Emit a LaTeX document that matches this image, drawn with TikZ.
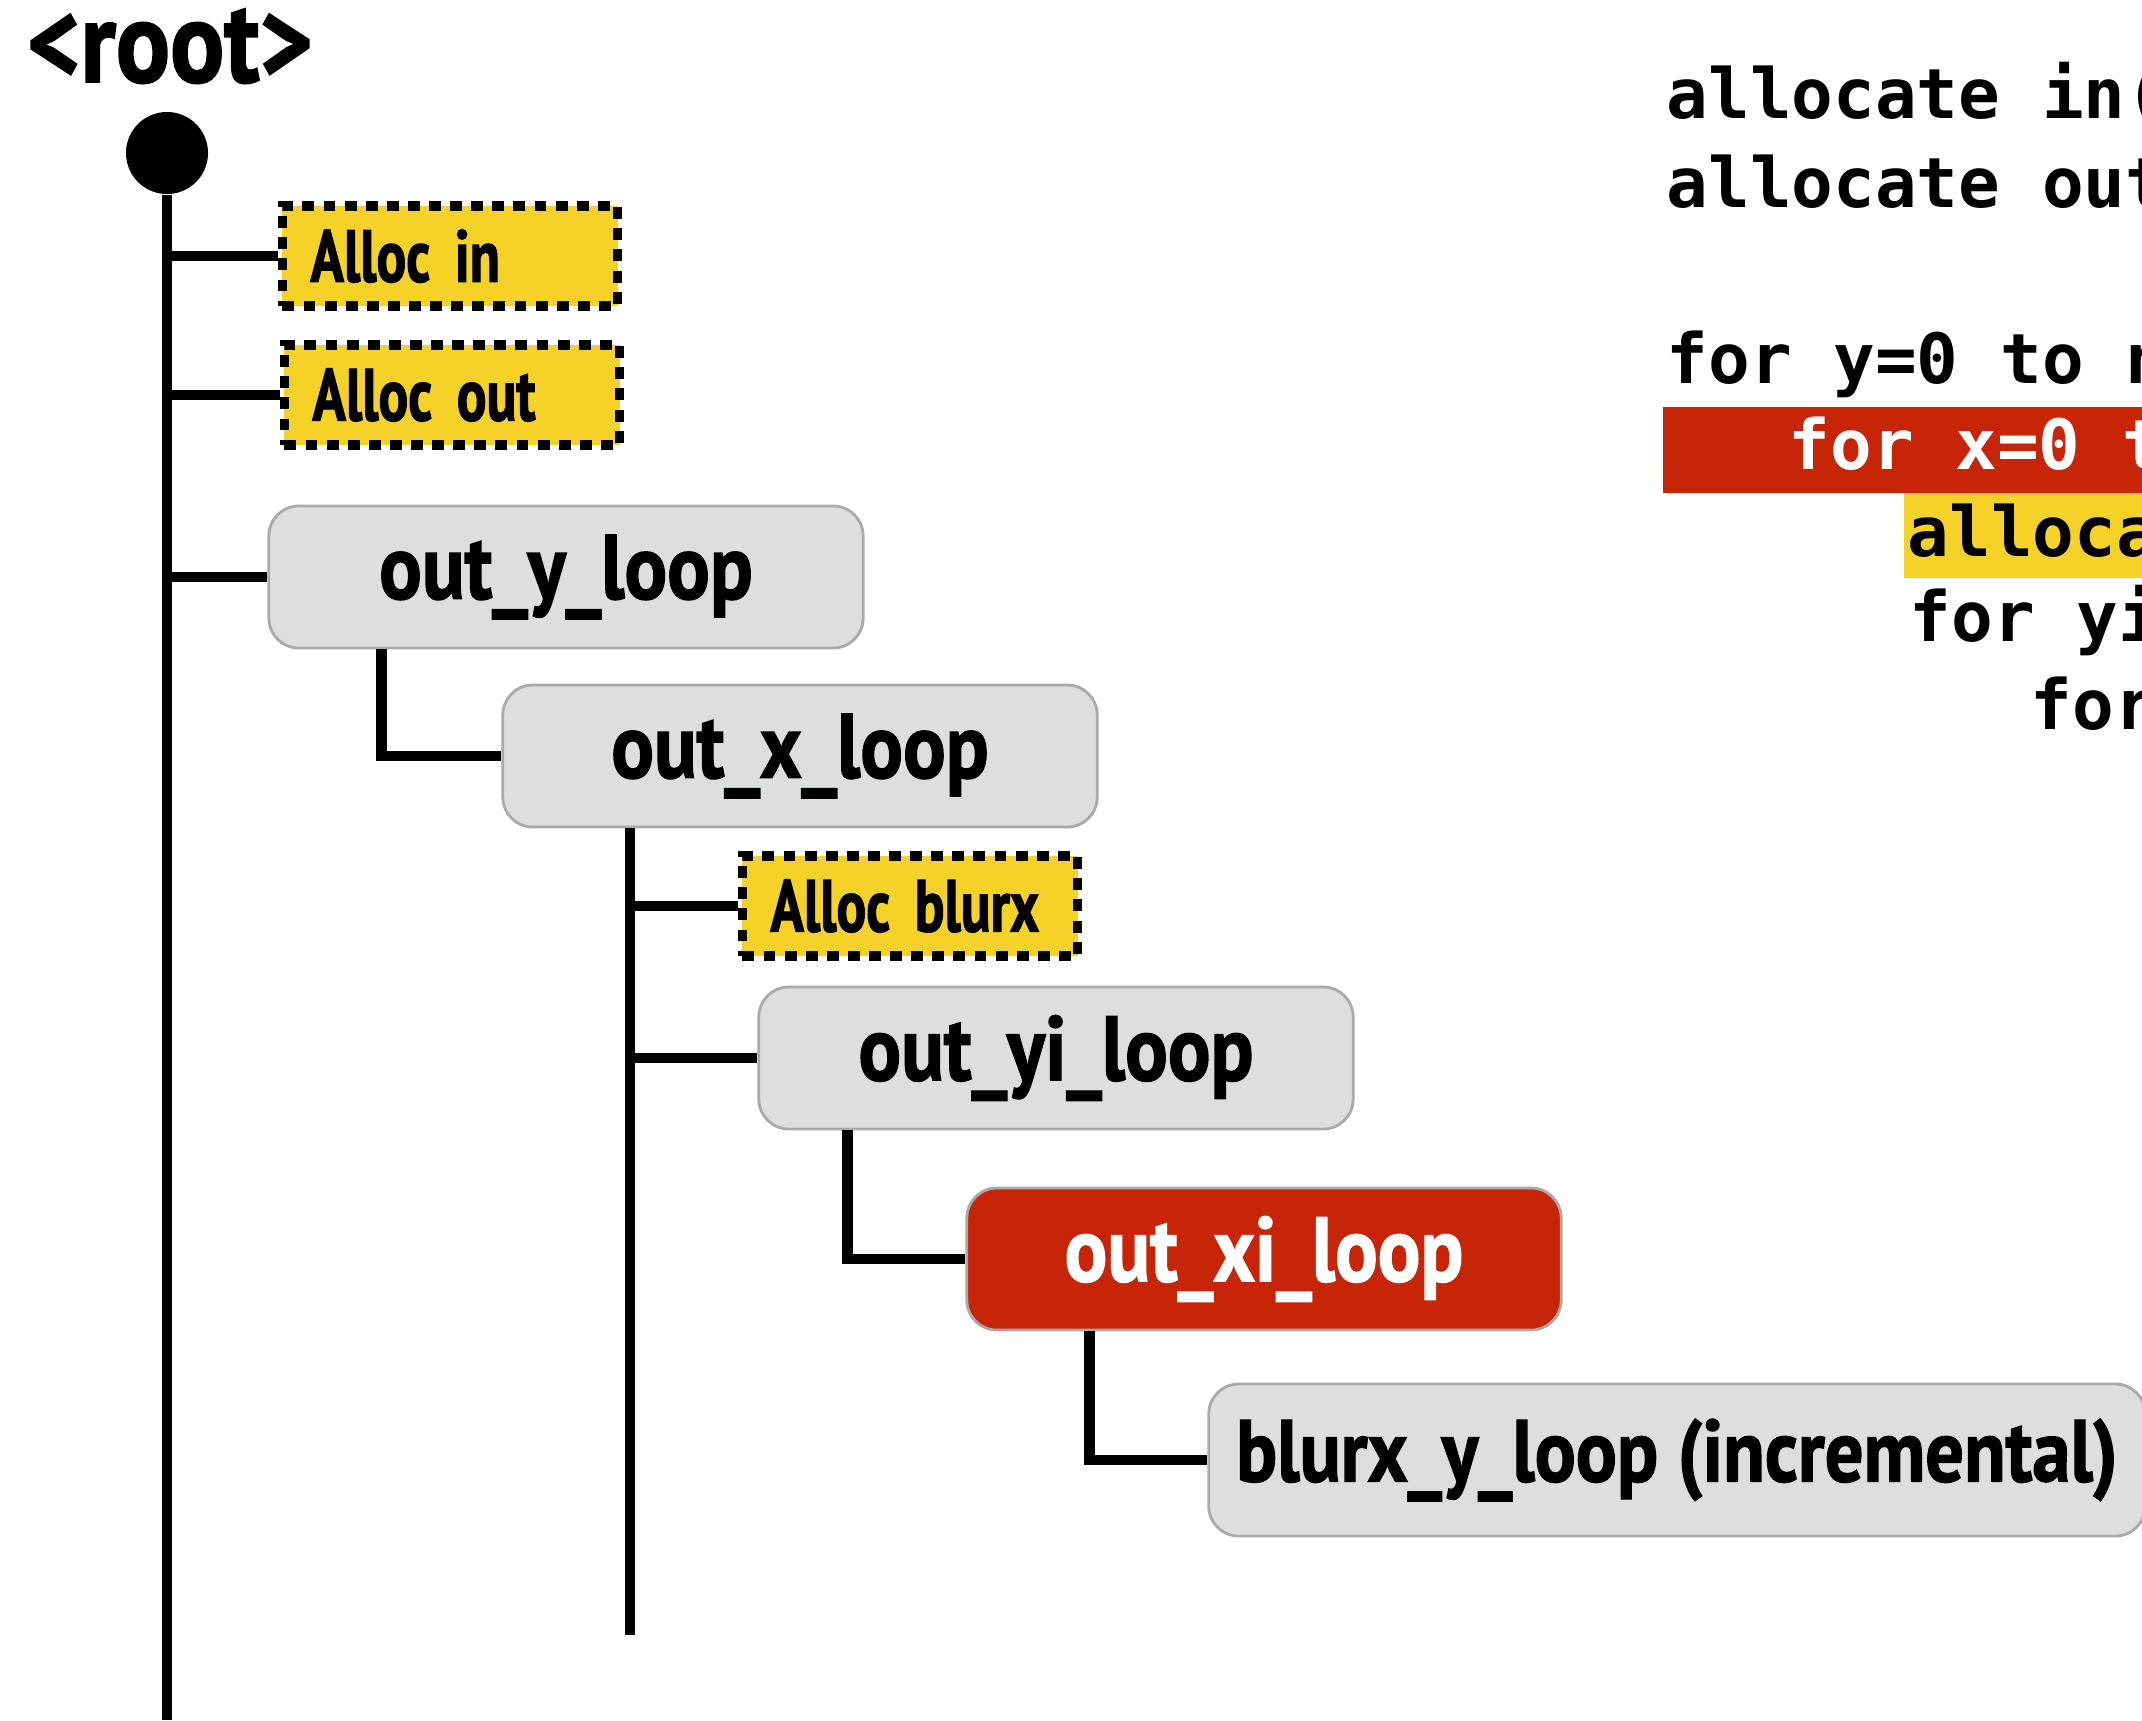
\documentclass[tikz,border=0pt]{standalone}
\usepackage{fontspec}
\usepackage{tikz}
\usetikzlibrary{calc}
\newfontfamily\labelfont[FakeStretch=0.87,FakeBold=1.5]{PT Sans}
\newfontfamily\allocfont[FakeStretch=0.75,FakeBold=1.5]{PT Sans}
\newfontfamily\codefont{DejaVu Sans Mono}
\definecolor{allocyellow}{RGB}{245,210,40}
\definecolor{loopred}{RGB}{200,36,8}
\definecolor{loopgray}{RGB}{221,222,224}
\definecolor{loopborder}{RGB}{170,170,170}

\begin{document}
\begin{tikzpicture}[x=0.01cm,y=-0.01cm,
  wire/.style={line width=3.1pt},
  alloc/.style={draw,fill=allocyellow,line width=2.6pt,dash pattern=on 3.4pt off 2.6pt,
    text width=2.79cm,align=left,inner xsep=0.28cm,minimum height=1cm,
    font=\allocfont\bfseries\fontsize{21}{24}\selectfont},
  loop/.style={draw=loopborder,fill=loopgray,line width=0.8pt,rounded corners=0.3cm,
    minimum width=5.94cm,minimum height=1.42cm,
    font=\labelfont\bfseries\fontsize{26}{30}\selectfont},
  hot/.style={loop,fill=loopred,text=white},
  code/.style={anchor=base west,inner sep=0pt,
    font=\codefont\bfseries\fontsize{19.7}{24}\selectfont}]
\useasboundingbox (0,0) rectangle (2142,1720);
\clip (0,0) rectangle (2142,1720);

% root of the tree
\node[anchor=base,font=\labelfont\bfseries\fontsize{33}{36}\selectfont] (r) at (170,82) {<root>};
\node[circle,fill,inner sep=0pt,minimum size=0.82cm] (0) at (167,153) {};
\coordinate (e0) at (167,1720);

\node[alloc] (1) at (450,256) {Alloc in};
\node[alloc] (2) at (452,395) {Alloc out};
\node[loop] (3) at (566,577) {out\_y\_loop};
\node[loop] (4) at (800,756) {out\_x\_loop};
\coordinate (e4) at (630,1635);
\node[alloc] (5) at (910,906) {Alloc blurx};
\node[loop] (6) at (1056,1058) {out\_yi\_loop};
\node[hot] (7) at (1264,1259) {out\_xi\_loop};
\node[loop,minimum width=9.36cm,minimum height=1.52cm,
  font=\labelfont\bfseries\fontsize{25}{30}\selectfont] (8) at (1677,1460) {blurx\_y\_loop (incremental)};

% connectors
\draw[wire] (0.south) -- (e0);
\draw[wire] (1.west -| 0) -- (1.west);
\draw[wire] (2.west -| 0) -- (2.west);
\draw[wire] (3.west -| 0) -- (3.west);
\draw[wire] ($(3.south west)+(114,0)$) |- (4.west);
\draw[wire] (e4 |- 4.south) -- (e4);
\draw[wire] (5.west -| e4) -- (5.west);
\draw[wire] (6.west -| e4) -- (6.west);
\draw[wire] ($(6.south west)+(90,0)$) |- (7.west);
\draw[wire] ($(7.south west)+(124,0)$) |- (8.west);

% code on the right
\fill[loopred] (1663,407) rectangle (2142,493);
\fill[allocyellow] (1904,493) rectangle (2142,578);
\node[code] (c1) at (1666,118) {allocate in(};
\node[code] (c2) at (1666,207) {allocate out};
\node[code] (c3) at (1666,383) {for y=0 to n};
\node[code,text=white] (c4) at (1788,469) {for x=0 t};
\node[code] (c5) at (1907,556) {alloca};
\node[code] (c6) at (1909,641) {for yi};
\node[code] (c7) at (2030,729) {for};
\end{tikzpicture}
\end{document}
